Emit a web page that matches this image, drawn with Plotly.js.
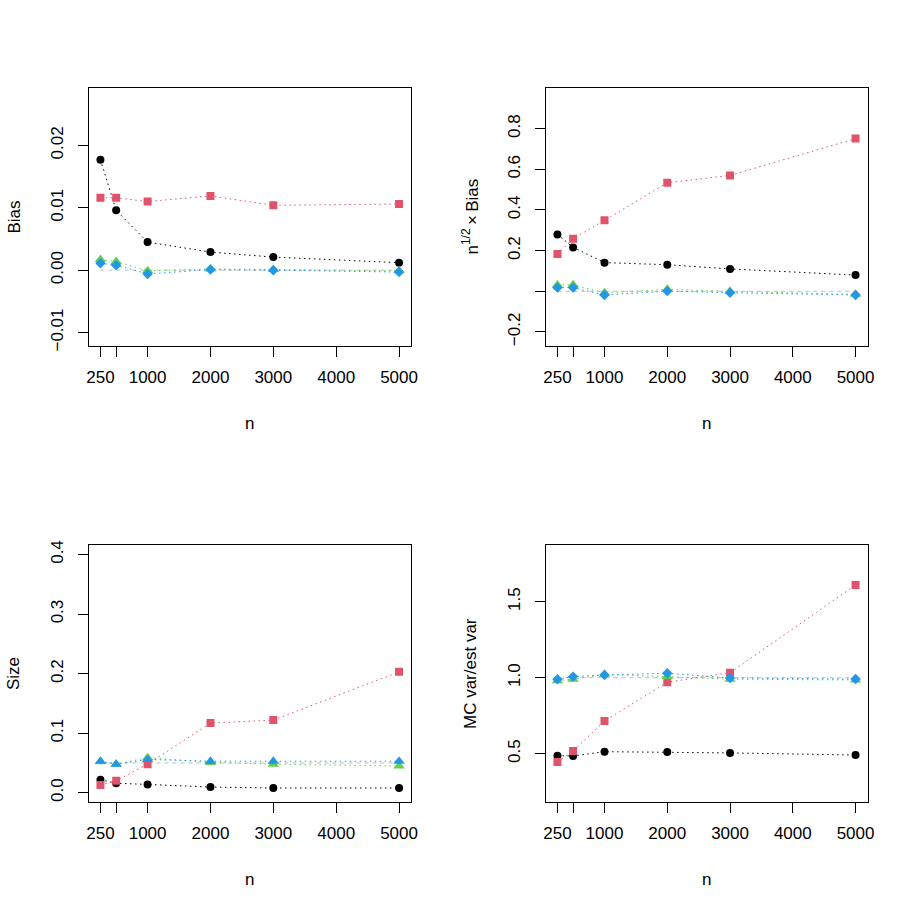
<!DOCTYPE html>
<html>
<head>
<meta charset="utf-8">
<script src="https://cdn.plot.ly/plotly-3.0.1.min.js"></script>
<style>
  body { margin: 0; background: #fff; }
  #sim { width: 913px; height: 913px; }
</style>
</head>
<body>
<div id="sim"></div>
<script>
// Simulation summary - four panels against sample size n

var nVals = [250, 500, 1000, 2000, 3000, 5000];
var xTickVals = [250, 1000, 2000, 3000, 4000, 5000];
var xTickText = ['250', '1000', '2000', '3000', '4000', '5000'];
var xBareTicks = [500];   // tick drawn without a label (label would overlap)

// panel 1: Bias
var biasBlack = [0.0177, 0.0096, 0.0045, 0.0029, 0.0021, 0.0012];
var biasRed = [0.0116, 0.0116, 0.0110, 0.0119, 0.0104, 0.0106];
var biasGreen = [0.0017, 0.0014, -0.0001, 0.0002, 0.0001, -0.0001];
var biasBlue = [0.0011, 0.0008, -0.0006, 0.0001, 0.0000, -0.0003];

// panel 2: n^(1/2) x Bias
var rootBlack = [0.280, 0.216, 0.141, 0.131, 0.110, 0.080];
var rootRed = [0.183, 0.259, 0.349, 0.534, 0.570, 0.751];
var rootGreen = [0.031, 0.032, -0.007, 0.010, 0.000, -0.015];
var rootBlue = [0.018, 0.018, -0.018, 0.001, -0.007, -0.018];

// panel 3: Size
var sizeBlack = [0.022, 0.016, 0.014, 0.0096, 0.008, 0.008];
var sizeRed = [0.013, 0.020, 0.048, 0.117, 0.122, 0.203];
var sizeGreen = [0.052, 0.048, 0.059, 0.051, 0.048, 0.045];
var sizeBlue = [0.053, 0.048, 0.056, 0.053, 0.053, 0.053];

// panel 4: MC var / est var
var ratioBlack = [0.487, 0.485, 0.513, 0.511, 0.505, 0.491];
var ratioRed = [0.445, 0.518, 0.715, 0.970, 1.033, 1.610];
var ratioGreen = [0.980, 0.990, 1.022, 1.007, 0.990, 0.985];
var ratioBlue = [0.990, 1.007, 1.018, 1.029, 0.998, 0.991];

// reference (target) levels, drawn as grey dashed lines
var refLevels = [0, 0, 0.05, 1];

var yTitles = ['Bias', 'n<sup>1/2</sup>\u2009\u00d7\u2009Bias', 'Size', 'MC var/est var'];
var yTickVals = [
    [-0.01, 0, 0.01, 0.02],
    [-0.2, 0.2, 0.4, 0.6, 0.8],
    [0, 0.1, 0.2, 0.3, 0.4],
    [0.5, 1.0, 1.5]
];
var yTickText = [
    ['\u22120.01', '0.00', '0.01', '0.02'],
    ['\u22120.2', '0.2', '0.4', '0.6', '0.8'],
    ['0.0', '0.1', '0.2', '0.3', '0.4'],
    ['0.5', '1.0', '1.5']
];
var yBareTicks = [[], [0], [], []];
var yRanges = [[-0.01215, 0.0292], [-0.269, 1.0], [-0.0155, 0.416], [0.182, 1.873]];

var panels = [
    [biasBlack, biasRed, biasGreen, biasBlue],
    [rootBlack, rootRed, rootGreen, rootBlue],
    [sizeBlack, sizeRed, sizeGreen, sizeBlue],
    [ratioBlack, ratioRed, ratioGreen, ratioBlue]
];

var colors = ['#000000', '#DF536B', '#61D04F', '#2297E6'];
var symbols = ['circle', 'square', 'triangle-up', 'diamond'];
var markSizes = [8, 8, 10, 8];

// plot boxes in pixels (left, right, top, bottom) on a 913 px page
var W = 913;
var boxX = [[88.5, 411], [545.5, 867.5], [88.5, 411], [545.5, 867.5]];
var boxY = [[88, 346], [88, 346], [545, 802], [545, 802]];

var fnt = { family: 'Liberation Sans, Arial, sans-serif', size: 17, color: 'black' };

var data = [];
var layout = {
    width: 913,
    height: 913,
    margin: { l: 0, r: 0, t: 0, b: 0 },
    paper_bgcolor: 'white',
    plot_bgcolor: 'white',
    showlegend: false,
    font: fnt,
    annotations: []
};

for (var p = 0; p < 4; p++) {
    var k = p === 0 ? '' : String(p + 1);
    var xa = 'x' + k, ya = 'y' + k;

    // grey dashed reference line from first to last n
    data.push({
        type: 'scatter', mode: 'lines', xaxis: xa, yaxis: ya,
        x: [nVals[0], nVals[nVals.length - 1]],
        y: [refLevels[p], refLevels[p]],
        line: { color: '#BEBEBE', width: 1, dash: '4px,4px' },
        hoverinfo: 'skip'
    });

    for (var s = 0; s < 4; s++) {
        var sym = symbols[s];
        var sz = markSizes[s];
        // the size panel draws its fourth series with triangles too
        if (p === 2 && s === 3) { sym = 'triangle-up'; sz = 10; }
        data.push({
            type: 'scatter', mode: 'lines+markers', xaxis: xa, yaxis: ya,
            x: nVals, y: panels[p][s],
            line: { color: colors[s], width: 1, dash: '1.5px,3.5px' },
            marker: { color: colors[s], symbol: sym, size: sz, line: { width: 0 } }
        });
    }

    layout['xaxis' + k] = {
        domain: [boxX[p][0] / W, boxX[p][1] / W],
        anchor: ya,
        range: [60, 5190],
        tickmode: 'array', tickvals: xTickVals, ticktext: xTickText,
        ticks: 'outside', ticklen: 10, tickwidth: 1, tickcolor: 'black',
        minor: { tickmode: 'array', tickvals: xBareTicks, ticks: 'outside', ticklen: 10, tickwidth: 1, tickcolor: 'black', showgrid: false },
        showline: true, linecolor: 'black', linewidth: 1, mirror: true,
        showgrid: false, zeroline: false,
        ticklabelstandoff: 6,
        tickfont: fnt
    };
    layout['yaxis' + k] = {
        domain: [1 - boxY[p][1] / W, 1 - boxY[p][0] / W],
        anchor: xa,
        range: yRanges[p],
        tickmode: 'array', tickvals: yTickVals[p], ticktext: yTickText[p],
        ticks: 'outside', ticklen: 10, tickwidth: 1, tickcolor: 'black',
        minor: { tickmode: 'array', tickvals: yBareTicks[p], ticks: 'outside', ticklen: 10, tickwidth: 1, tickcolor: 'black', showgrid: false },
        tickangle: -90,
        showline: true, linecolor: 'black', linewidth: 1, mirror: true,
        showgrid: false, zeroline: false,
        ticklabelstandoff: 8,
        tickfont: fnt
    };

    // axis titles placed like the R device does
    var cx = (boxX[p][0] + boxX[p][1]) / 2;
    layout.annotations.push({
        xref: 'paper', yref: 'paper', x: cx / W, y: 1 - (boxY[p][1] + 77) / W,
        text: 'n', showarrow: false, font: fnt, xanchor: 'center', yanchor: 'middle'
    });
    layout.annotations.push({
        xref: 'paper', yref: 'paper', x: (boxX[p][0] - 75) / W,
        y: 1 - (boxY[p][0] + boxY[p][1]) / 2 / W,
        text: yTitles[p], textangle: -90, showarrow: false, font: fnt,
        xanchor: 'center', yanchor: 'middle'
    });
}

Plotly.newPlot('sim', data, layout, { staticPlot: true });
</script>
</body>
</html>
